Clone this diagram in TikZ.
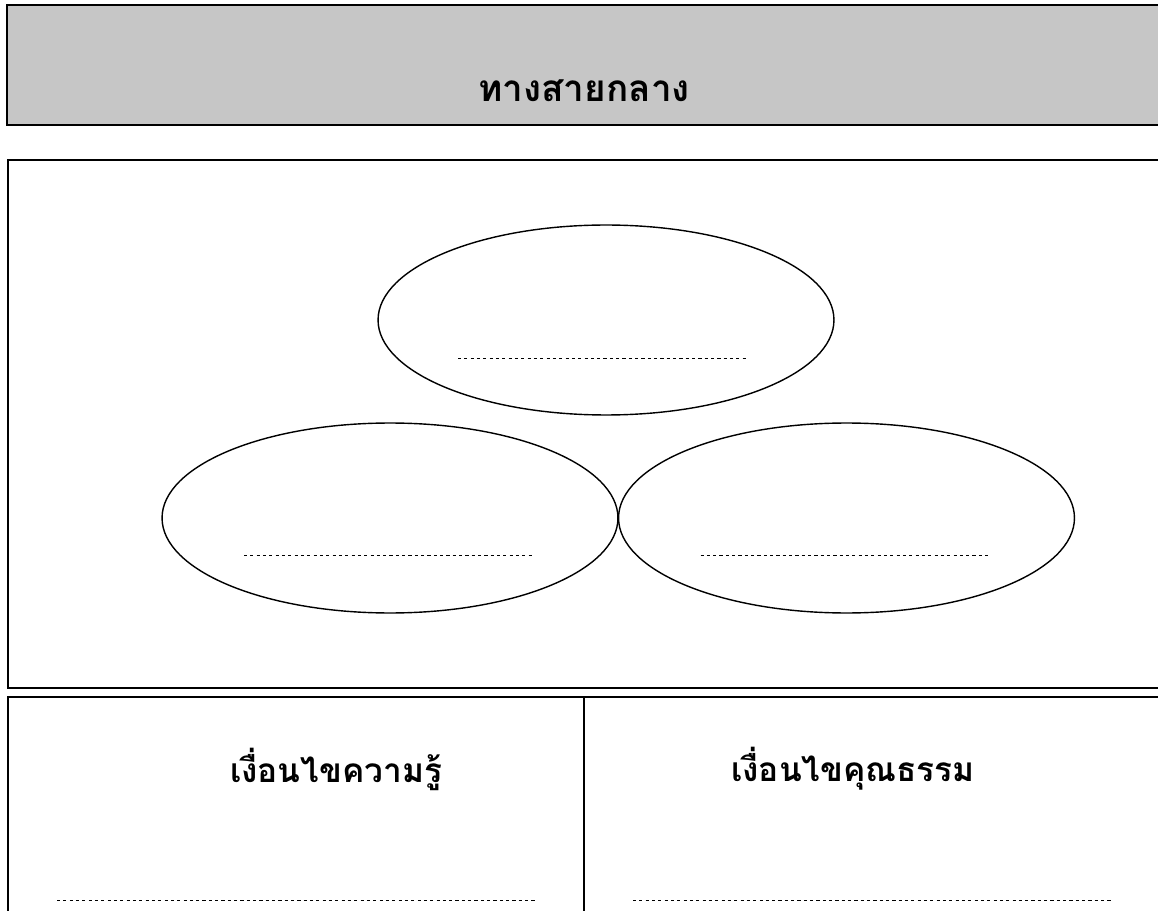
\documentclass[tikz,border=0pt]{standalone}
\usepackage{fontspec}
\newfontfamily\thaifont[Script=Thai]{Loma}
\usetikzlibrary{shapes.geometric,positioning}
\definecolor{headgray}{RGB}{198,198,198}
\tikzset{
  frame/.style   = { draw=black, line width=1.1pt },
  bubble/.style  = { draw, ellipse, line width=0.8pt, inner sep=0pt,
                     minimum width=9.12cm, minimum height=3.8cm },
  blank/.style   = { line width=0.45pt, dash pattern=on 1.8pt off 1.8pt },
  caption/.style = { font=\thaifont\bfseries\fontsize{#1}{26}\selectfont },
  caption/.default = 19
}
\begin{document}
\begin{tikzpicture}[x=0.02cm,y=-0.02cm]
  \useasboundingbox (0,0) rectangle (1158,911);
  \clip (0,0) rectangle (1158,911);

  % Draw all boxes
  \draw[frame, fill=headgray] (7,5) rectangle (1175,125);
  \draw[frame] (8,160) rectangle (1175,688);
  \draw[frame] (8,697) rectangle (584,925);
  \draw[frame] (584,697) rectangle (1175,925);

  % Draw titles
  \node[caption=21] (head) at (584,91) {ทางสายกลาง};
  \node[caption] (know) at (336,769) {เงื่อนไขความรู้};
  \node[caption] (virtue) at (853,769) {เงื่อนไขคุณธรรม};

  % Draw the three bubbles
  \node[bubble] (top)   at (606,320) {};
  \node[bubble] (left)  at (390,518) {};
  \node[bubble] (right) at (846.5,518) {};

  % Draw blanks
  \draw[blank] ([shift={(-148,38)}]top.center)   -- ++(290,0);
  \draw[blank] ([shift={(-146,37)}]left.center)  -- ++(288,0);
  \draw[blank] ([shift={(-146,37)}]right.center) -- ++(287,0);
  \draw[blank] (57,900)  -- (537,900);
  \draw[blank] (633,900) -- (1113,900);
\end{tikzpicture}
\end{document}
